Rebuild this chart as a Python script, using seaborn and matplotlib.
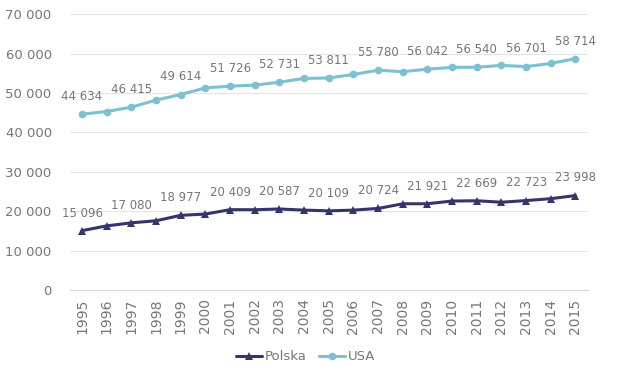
import numpy as np
import pandas as pd
import matplotlib
matplotlib.use("Agg")
import matplotlib.pyplot as plt
import matplotlib.ticker as ticker
import seaborn as sns

sns.set_style("white")
plt.rcParams["font.family"] = ["DejaVu Sans"]

years = list(range(1995, 2016))
polska = [15096, 16300, 17080, 17600, 18977, 19300, 20409, 20400, 20587, 20300,
          20109, 20300, 20724, 21900, 21921, 22600, 22669, 22300, 22723, 23200, 23998]
usa = [44634, 45300, 46415, 48200, 49614, 51300, 51726, 52000, 52731, 53700,
       53811, 54700, 55780, 55400, 56042, 56500, 56540, 57000, 56701, 57500, 58714]
labeled = [1995, 1997, 1999, 2001, 2003, 2005, 2007, 2009, 2011, 2013, 2015]

c_pl = "#35356b"
c_us = "#7dc0d2"
grey = "#767676"

df = pd.DataFrame({
    "pos": list(range(len(years))) * 2,
    "value": polska + usa,
    "kraj": ["Polska"] * len(years) + ["USA"] * len(years),
})

fig, ax = plt.subplots(figsize=(6.28, 3.72), dpi=100)
fig.subplots_adjust(left=0.111, right=0.936, top=0.962, bottom=0.22)

sns.lineplot(data=df, x="pos", y="value", hue="kraj", style="kraj",
             palette={"Polska": c_pl, "USA": c_us},
             markers={"Polska": "^", "USA": "o"}, dashes=False,
             linewidth=2.2, markersize=5.5, markeredgewidth=0, ax=ax)

def fmt(v):
    return f"{int(v):,}".replace(",", " ")

for series in (polska, usa):
    for i, y in enumerate(years):
        if y in labeled:
            ax.annotate(fmt(series[i]), (i, series[i]), xytext=(0, 8),
                        textcoords="offset points", ha="center", va="bottom",
                        fontsize=8.5, color=grey)

ax.set_xlim(-0.5, len(years) - 0.5)
ax.set_ylim(0, 70000)
ax.set_yticks(np.arange(0, 70001, 10000))
ax.yaxis.set_major_formatter(ticker.FuncFormatter(lambda v, p: fmt(v)))
ax.set_xticks(range(len(years)))
ax.set_xticklabels([str(y) for y in years], rotation=90)
ax.tick_params(axis="both", length=0, labelsize=9.5, colors=grey)
ax.tick_params(axis="x", labelsize=10, pad=6)
ax.tick_params(axis="y", pad=13)
ax.grid(axis="y", color="#e4e4e4", linewidth=0.8)
ax.set_xlabel("")
ax.set_ylabel("")
sns.despine(ax=ax, left=True)
ax.spines["bottom"].set_color("#d9d9d9")

handles, labels = ax.get_legend_handles_labels()
leg = ax.legend(handles, labels, loc="upper center", bbox_to_anchor=(0.455, -0.175),
                ncol=2, frameon=False, fontsize=9.5, handlelength=2.0,
                columnspacing=0.9, handletextpad=0.2)
for t in leg.get_texts():
    t.set_color(grey)

fig.savefig("out.png", dpi=100)
